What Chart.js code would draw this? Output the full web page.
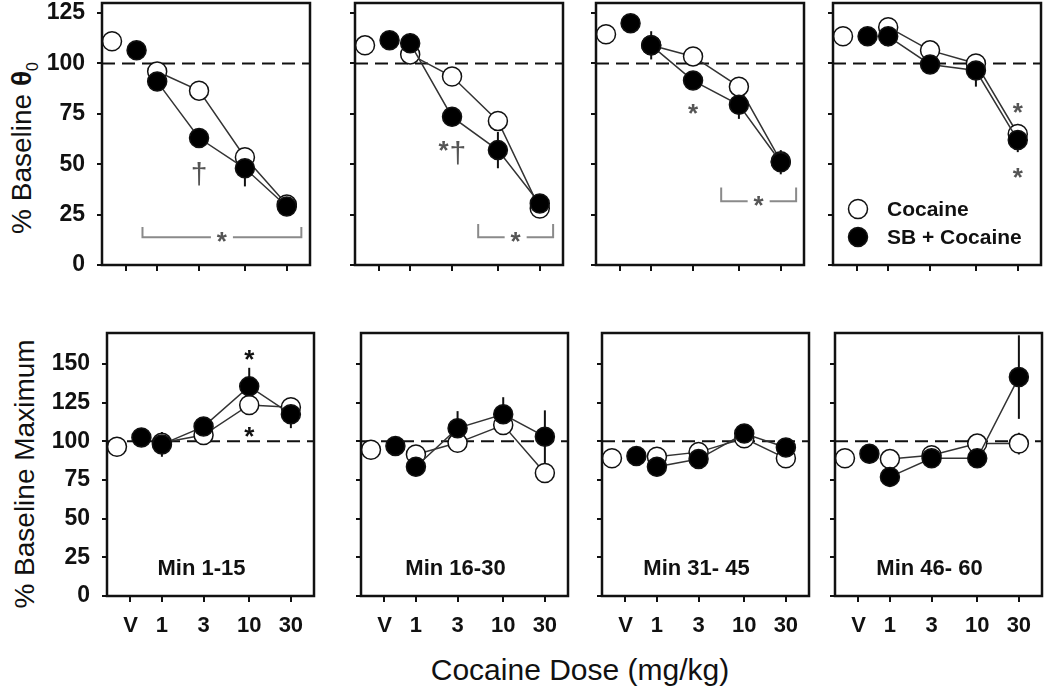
<!DOCTYPE html>
<html>
<head>
<meta charset="utf-8">
<script src="https://cdn.jsdelivr.net/npm/chart.js@4.4.1/dist/chart.umd.min.js"></script>
<style>
  body { margin: 0; background: #fff; width: 1050px; height: 690px; overflow: hidden; position: relative;
         font-family: "Liberation Sans", Arial, sans-serif; color: #111; }
  canvas { position: absolute; }
  .title { position: absolute; white-space: nowrap; transform: translate(-50%, -50%); }
  .rot { transform: translate(-50%, -50%) rotate(-90deg); }
</style>
</head>
<body>
<div class="title rot" style="left:24px;top:148px;font-size:28px">% Baseline <b>&theta;</b><sub style="font-size:16px">0</sub></div>
<div class="title rot" style="left:25px;top:474px;font-size:28px">% Baseline Maximum</div>
<div class="title" style="left:580px;top:670px;font-size:30px">Cocaine Dose (mg/kg)</div>
<script>
// dose axis
const doseLabels = ['V', '1', '3', '10', '30'];
const doses = ['V', 1, 3, 10, 30];
const panelLabels = ['Min 1-15', 'Min 16-30', 'Min 31- 45', 'Min 46- 60'];

// top row: % baseline theta-0 (one row per time bin, values for V,1,3,10,30)
const thetaCoc = [
  [111, 96, 86.5, 53.5, 30],
  [109, 104.5, 93.5, 71.5, 28],
  [114.5, 109, 103.5, 88.5, 51.5],
  [113.5, 118, 106.5, 100, 65]
];
const thetaCocErr = [
  [2, 3, 3, 3, 3],
  [2, 4, 3, 4, 3],
  [3, 4, 3, 4, 4],
  [3, 3, 3, 4, 5]
];
const thetaSB = [
  [106.5, 91, 63, 48, 29],
  [111.5, 110, 73.5, 57, 30.5],
  [120, 109, 91.5, 79.5, 51],
  [113.5, 113.5, 99.5, 96.5, 62]
];
const thetaSBErr = [
  [2, 4, 3, 9, 3],
  [3, 5, 3, 9, 3],
  [3, 7, 4, 7, 6],
  [4, 5, 3, 8, 6]
];

// bottom row: % baseline maximum
const maxCoc = [
  [96.5, 99, 104, 123.5, 122],
  [94.5, 91.5, 99, 110.5, 79.5],
  [89, 90, 93, 102, 89],
  [89, 88.5, 91, 98.5, 98.5]
];
const maxCocErr = [
  [3, 3, 3, 5, 5],
  [3, 4, 3, 6, 5],
  [3, 3, 3, 3, 5],
  [3, 3, 3, 4, 7]
];
const maxSB = [
  [102.5, 98, 109.5, 135.5, 117.5],
  [97, 83.5, 108.5, 117.5, 103],
  [90.5, 83.5, 88.5, 105, 96],
  [92, 77, 89, 89, 141.5]
];
const maxSBErr = [
  [3, 8, 5, 12, 9],
  [3, 4, 11, 11, 17],
  [3, 4, 4, 6, 5],
  [6, 6, 5, 3, 27]
];

// significance marks: dose, value, text
const thetaMarks = [
  [{ dose: 3, y: 45, t: '\u2020' }],
  [{ dose: 2.4, y: 59, t: '*' }, { dose: 3.5, y: 55.5, t: '\u2020' }],
  [{ dose: 3, y: 77.5, t: '*' }],
  [{ dose: 30, y: 78, t: '*' }, { dose: 30, y: 45.5, t: '*' }]
];
const thetaBrackets = [
  { from: 0.68, to: 44, y: 13.8, tip: 18.8 },
  { from: 5.96, to: 42.6, y: 13.8, tip: 20.3 },
  { from: 6.28, to: 44.9, y: 31.6, tip: 38.5 },
  null
];
const maxMarks = [
  [{ dose: 10, y: 156, t: '*' }, { dose: 10, y: 106, t: '*' }],
  [], [], []
];

const VEH = -0.36;            // where "V" sits on the log axis
const X_MIN = -0.629, X_MAX = 1.742;
const FONT = "'Liberation Sans', Arial, sans-serif";
Chart.defaults.font.family = FONT;

const xOf = (d, shift) => d === 'V' ? VEH + shift : Math.log10(d);
const pts = (vals, shift) => doses.map((d, i) => ({ x: xOf(d, shift), y: vals[i] }));
const tickPos = doses.map(d => xOf(d, 0));

function glyph(ctx, text, cx, cy) {
  const m = ctx.measureText(text);
  ctx.textAlign = 'center';
  ctx.textBaseline = 'alphabetic';
  ctx.fillText(text, cx, cy + (m.actualBoundingBoxAscent - m.actualBoundingBoxDescent) / 2);
}

function decor(info) {
  return {
    id: 'decor',
    beforeDatasetsDraw(chart) {
      const ctx = chart.ctx, ys = chart.scales.y;
      ctx.save();
      ctx.strokeStyle = '#111';
      ctx.lineWidth = 2;
      chart.data.datasets.forEach((ds, i) => {
        if (!ds.errors) return;
        chart.getDatasetMeta(i).data.forEach((pt, j) => {
          const v = ds.data[j].y, e = ds.errors[j];
          ctx.beginPath();
          ctx.moveTo(pt.x, ys.getPixelForValue(v - e));
          ctx.lineTo(pt.x, ys.getPixelForValue(v + e));
          ctx.stroke();
        });
      });
      ctx.restore();
    },
    afterDraw(chart) {
      const { ctx, chartArea: a, scales: { x, y } } = chart;
      ctx.save();
      ctx.strokeStyle = '#111';
      ctx.lineWidth = 2.5;
      ctx.strokeRect(a.left, a.top, a.right - a.left, a.bottom - a.top);

      const b = info.bracket;
      if (b) {
        const x1 = x.getPixelForValue(Math.log10(b.from)), x2 = x.getPixelForValue(Math.log10(b.to));
        const yy = y.getPixelForValue(b.y), yt = y.getPixelForValue(b.tip);
        ctx.strokeStyle = '#8a8a8a';
        ctx.lineWidth = 2;
        ctx.beginPath();
        ctx.moveTo(x1, yt); ctx.lineTo(x1, yy); ctx.lineTo(x2, yy); ctx.lineTo(x2, yt);
        ctx.stroke();
        const cx = (x1 + x2) / 2;
        ctx.fillStyle = '#fff';
        ctx.fillRect(cx - 11, yy - 6, 22, 12);
        ctx.fillStyle = '#555';
        ctx.font = 'bold 26px ' + FONT;
        glyph(ctx, '*', cx, yy);
      }
      info.marks.forEach(m => {
        ctx.fillStyle = info.markColor;
        ctx.font = m.t === '*' ? 'bold 26px ' + FONT : '30px ' + FONT;
        glyph(ctx, m.t, x.getPixelForValue(Math.log10(m.dose)), y.getPixelForValue(m.y));
      });
      if (info.label) {
        ctx.fillStyle = '#111';
        ctx.font = 'bold 22px ' + FONT;
        glyph(ctx, info.label, (a.left + a.right) / 2 - 9, a.bottom - 29);
      }
      if (info.legend) {
        const lx = a.left + 25;
        [['Cocaine', '#fff', a.top + 206], ['SB + Cocaine', '#000', a.top + 234]].forEach(([txt, fill, ly]) => {
          ctx.beginPath();
          ctx.arc(lx, ly, 9.5, 0, Math.PI * 2);
          ctx.fillStyle = fill;
          ctx.fill();
          ctx.lineWidth = 1.5;
          ctx.strokeStyle = '#111';
          ctx.stroke();
          ctx.fillStyle = '#111';
          ctx.font = 'bold 21px ' + FONT;
          ctx.textAlign = 'left';
          ctx.textBaseline = 'middle';
          ctx.fillText(txt, lx + 29, ly + 1);
        });
      }
      ctx.restore();
    }
  };
}

const topLefts = [102, 355, 596, 833];
const botLefts = [107, 361, 602, 835];

function makePanel(row, col) {
  const top = row === 0;
  const L = (top ? topLefts : botLefts)[col];
  const T = top ? 3 : 333;
  const W = top ? 211 : 210;
  const H = top ? 262 : 263;
  const yW = col === 0 ? L : 14;
  const padTop = 32, padR = 8;
  const xH = top ? 32 : 52;

  const canvas = document.createElement('canvas');
  canvas.width = yW + W + padR;
  canvas.height = padTop + H + xH;
  canvas.style.left = (L - yW) + 'px';
  canvas.style.top = (T - padTop) + 'px';
  document.body.appendChild(canvas);

  const coc = top ? thetaCoc[col] : maxCoc[col];
  const cocErr = top ? thetaCocErr[col] : maxCocErr[col];
  const sb = top ? thetaSB[col] : maxSB[col];
  const sbErr = top ? thetaSBErr[col] : maxSBErr[col];
  const lineColor = c => c.p0DataIndex === 0 ? 'rgba(0,0,0,0)' : '#333';
  const grid = { display: true, drawOnChartArea: false, drawTicks: true, color: '#111', lineWidth: 2 };

  new Chart(canvas, {
    type: 'line',
    data: {
      datasets: [
        { label: 'SB + Cocaine', data: pts(sb, 0.125), errors: sbErr, order: 0, clip: false,
          borderColor: '#333', borderWidth: 1.5, segment: { borderColor: lineColor },
          pointRadius: 9.5, pointBackgroundColor: '#000', pointBorderColor: '#111', pointBorderWidth: 1.5 },
        { label: 'Cocaine', data: pts(coc, -0.155), errors: cocErr, order: 1, clip: false,
          borderColor: '#333', borderWidth: 1.5, segment: { borderColor: lineColor },
          pointRadius: 9.5, pointBackgroundColor: '#fff', pointBorderColor: '#111', pointBorderWidth: 1.5 },
        { label: 'baseline', data: [{ x: X_MIN, y: 100 }, { x: X_MAX, y: 100 }], order: 2,
          borderColor: '#111', borderWidth: 2, borderDash: [13, 7], pointRadius: 0 }
      ]
    },
    options: {
      responsive: false,
      animation: false,
      events: [],
      layout: { padding: { top: padTop, right: padR, left: 0, bottom: 0 } },
      plugins: { legend: { display: false }, tooltip: { enabled: false } },
      scales: {
        x: {
          type: 'linear', min: X_MIN, max: X_MAX,
          afterBuildTicks: s => { s.ticks = tickPos.map(v => ({ value: v })); },
          afterFit: s => { s.height = xH; },
          ticks: { display: !top, autoSkip: false, maxRotation: 0, padding: 11, color: '#111',
                   font: { size: 22, weight: 'bold' }, callback: (v, i) => doseLabels[i] },
          grid: Object.assign({ tickLength: 6 }, grid),
          border: { display: false }
        },
        y: {
          min: 0, max: top ? 130 : 170,
          afterFit: s => { s.width = yW; },
          ticks: { display: col === 0, stepSize: 25, includeBounds: false, padding: 12, color: '#111',
                   font: { size: 23, weight: 'bold' } },
          grid: Object.assign({ tickLength: 5 }, grid),
          border: { display: false }
        }
      }
    },
    plugins: [decor({
      marks: top ? thetaMarks[col] : maxMarks[col],
      markColor: top ? '#555' : '#111',
      bracket: top ? thetaBrackets[col] : null,
      label: top ? null : panelLabels[col],
      legend: top && col === 3
    })]
  });
}

for (let r = 0; r < 2; r++) for (let c = 0; c < 4; c++) makePanel(r, c);
</script>
</body>
</html>
